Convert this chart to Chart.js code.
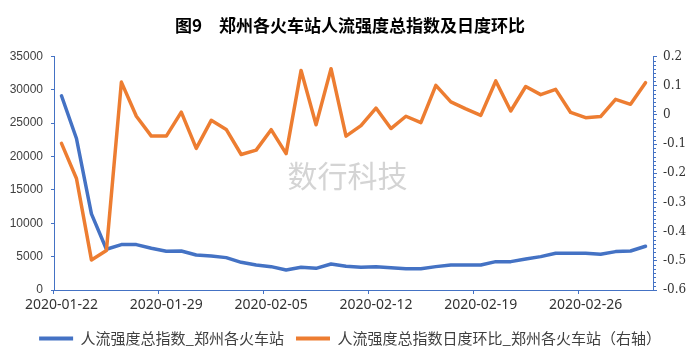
<!DOCTYPE html>
<html>
<head>
<meta charset="utf-8">
<script src="https://cdn.jsdelivr.net/npm/chart.js@4/dist/chart.umd.min.js"></script>
<style>
html,body{margin:0;padding:0;background:#fff;}
#wrap{width:700px;height:360px;position:relative;}
</style>
</head>
<body>
<div id="wrap"><canvas id="c" width="700" height="360"></canvas></div>
<script>
const titleText = '图9　郑州各火车站人流强度总指数及日度环比';
const watermarkText = '数行科技';
const seriesNames = ['人流强度总指数_郑州各火车站', '人流强度总指数日度环比_郑州各火车站（右轴）'];

const dates = [
  '2020-01-22','2020-01-23','2020-01-24','2020-01-25','2020-01-26','2020-01-27','2020-01-28',
  '2020-01-29','2020-01-30','2020-01-31','2020-02-01','2020-02-02','2020-02-03','2020-02-04',
  '2020-02-05','2020-02-06','2020-02-07','2020-02-08','2020-02-09','2020-02-10','2020-02-11',
  '2020-02-12','2020-02-13','2020-02-14','2020-02-15','2020-02-16','2020-02-17','2020-02-18',
  '2020-02-19','2020-02-20','2020-02-21','2020-02-22','2020-02-23','2020-02-24','2020-02-25',
  '2020-02-26','2020-02-27','2020-02-28','2020-02-29','2020-03-01'
];

const flowIndex = [
  29100, 22700, 11400, 6100, 6800, 6800, 6250,
  5800, 5850, 5250, 5100, 4850, 4150, 3750,
  3500, 3000, 3400, 3250, 3900, 3550, 3400,
  3500, 3350, 3200, 3200, 3500, 3750, 3750,
  3750, 4250, 4250, 4650, 5000, 5500, 5500,
  5500, 5350, 5750, 5850, 6550
];

const dayOnDay = [
  -0.098, -0.218, -0.497, -0.465, 0.112, -0.005, -0.073,
  -0.073, 0.009, -0.115, -0.019, -0.050, -0.136, -0.121,
  -0.051, -0.133, 0.152, -0.034, 0.158, -0.073, -0.037,
  0.023, -0.047, -0.005, -0.027, 0.101, 0.044, 0.020,
  -0.002, 0.116, 0.013, 0.097, 0.069, 0.087, 0.008,
  -0.010, -0.006, 0.053, 0.036, 0.110
];

const leftTicks = { min: 0, max: 35000, step: 5000 };
const rightTicks = { min: -0.6, max: 0.2, step: 0.1 };

const BLUE = '#4472C4';
const ORANGE = '#ED7D31';
const AXIS = '#4472C4';

const watermark = {
  id: 'watermark',
  beforeDatasetsDraw(chart) {
    const a = chart.chartArea, ctx = chart.ctx;
    ctx.save();
    ctx.font = '30px "Noto Sans CJK SC"';
    ctx.fillStyle = '#d4d4d4';
    ctx.textAlign = 'center';
    ctx.textBaseline = 'middle';
    ctx.fillText(watermarkText, (a.left + a.right) / 2 - 6, (a.top + a.bottom) / 2 + 2);
    ctx.restore();
  }
};

const minorTicks = {
  id: 'minorTicks',
  afterDraw(chart) {
    const s = chart.scales.y1, ctx = chart.ctx;
    ctx.save();
    ctx.strokeStyle = AXIS;
    ctx.lineWidth = 1;
    const sub = 7;
    const n = Math.round((rightTicks.max - rightTicks.min) / rightTicks.step) * sub;
    for (let k = 0; k <= n; k++) {
      if (k % sub === 0) continue;
      const v = rightTicks.min + k * rightTicks.step / sub;
      const y = Math.round(s.getPixelForValue(v)) + 0.5;
      ctx.beginPath();
      ctx.moveTo(s.left, y);
      ctx.lineTo(s.left + 3, y);
      ctx.stroke();
    }
    ctx.restore();
  }
};

new Chart(document.getElementById('c'), {
  type: 'line',
  data: {
    labels: dates,
    datasets: [
      {
        label: seriesNames[0], data: flowIndex, yAxisID: 'y',
        borderColor: BLUE, backgroundColor: BLUE, borderWidth: 3.5,
        pointRadius: 0, tension: 0, borderJoinStyle: 'round', borderCapStyle: 'round', order: 1
      },
      {
        label: seriesNames[1], data: dayOnDay, yAxisID: 'y1',
        borderColor: ORANGE, backgroundColor: ORANGE, borderWidth: 3.5,
        pointRadius: 0, tension: 0, borderJoinStyle: 'round', borderCapStyle: 'round', order: 0
      }
    ]
  },
  options: {
    responsive: false,
    animation: false,
    devicePixelRatio: 1,
    layout: { padding: { left: 0, right: 0, top: 0, bottom: 4 } },
    plugins: {
      title: {
        display: true, text: titleText, color: '#000',
        font: { family: '"Noto Sans CJK SC"', size: 17, weight: 'bold' },
        padding: { top: 15, bottom: 21 }
      },
      legend: {
        position: 'bottom',
        labels: {
          boxWidth: 34, boxHeight: 4, padding: 12, color: '#404040',
          font: { family: '"Noto Sans CJK SC"', size: 15 },
          sort: (a, b) => a.datasetIndex - b.datasetIndex,
          generateLabels: (chart) => Chart.defaults.plugins.legend.labels.generateLabels(chart)
            .map(l => Object.assign({}, l, { lineWidth: 0, fillStyle: l.strokeStyle }))
        }
      },
      tooltip: { enabled: false }
    },
    scales: {
      x: {
        type: 'category', offset: true,
        grid: {
          display: true, offset: true, drawOnChartArea: false, drawTicks: true, tickLength: 4,
          color: (ctx) => (ctx.index !== undefined && ctx.index % 7 === 0) ? AXIS : 'rgba(0,0,0,0)'
        },
        border: { color: AXIS, width: 1 },
        ticks: {
          autoSkip: false, maxRotation: 0, minRotation: 0, padding: 3, color: '#333',
          font: { family: '"Noto Sans"', size: 14 },
          callback: function (v, i) { return i % 7 === 0 ? this.getLabelForValue(v) : ''; }
        },
        afterFit: (s) => { s.height = 29; }
      },
      y: {
        position: 'left', min: leftTicks.min, max: leftTicks.max,
        ticks: {
          stepSize: leftTicks.step, padding: 8, color: '#404040',
          font: { family: '"Liberation Sans"', size: 12 },
          callback: (v) => String(Math.round(v))
        },
        grid: { drawOnChartArea: false, tickLength: 3, color: AXIS },
        border: { color: AXIS, width: 1 },
        afterFit: (s) => { s.width = 54; }
      },
      y1: {
        position: 'right', min: rightTicks.min, max: rightTicks.max,
        ticks: {
          stepSize: rightTicks.step, padding: 6, color: '#333',
          font: { family: '"DejaVu Serif"', size: 12 },
          callback: (v) => { const t = Number(v).toFixed(1); return Number(t) === 0 ? '0' : t; }
        },
        grid: { drawOnChartArea: false, tickLength: 4, color: AXIS },
        border: { color: AXIS, width: 1 },
        afterFit: (s) => { s.width = 47; }
      }
    }
  },
  plugins: [watermark, minorTicks]
});
</script>
</body>
</html>
